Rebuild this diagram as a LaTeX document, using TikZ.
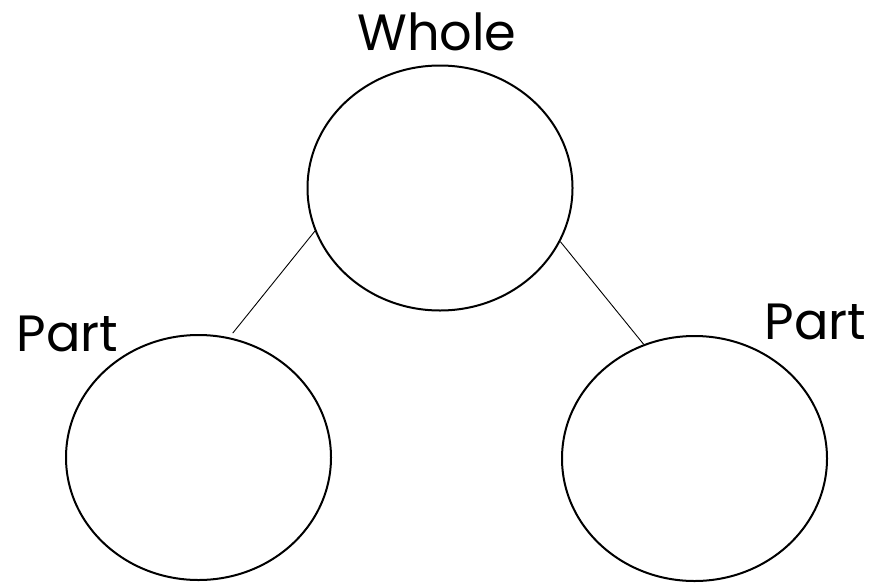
\documentclass[tikz,border=0pt]{standalone}
\usepackage{fontspec}
\setmainfont{Poppins}
\usetikzlibrary{shapes.geometric}
\begin{document}
\begin{tikzpicture}[x=1pt,y=-1pt,
  circ/.style={draw,line width=2pt,ellipse,minimum width=265pt,minimum height=245pt,inner sep=0pt},
  conn/.style={line width=0.9pt},
  lbl/.style={font=\fontsize{51}{51}\selectfont,inner sep=0pt,anchor=base}]
\useasboundingbox (0,0) rectangle (886,584);
\node[circ] (whole) at (440,188) {};
\node[circ] (left) at (198.5,457.5) {};
\node[circ] (right) at (694.5,458.5) {};
\node[lbl] (twhole) at (437,50) {Whole};
\node[lbl] (tleft) at (67.5,351) {Part};
\node[lbl] (tright) at (815.5,339) {Part};
\draw[conn] (whole.199) -- ([shift={(0pt,5pt)}]left.74.5);
\draw[conn] (whole.336.5) -- (right.114.5);
\end{tikzpicture}
\end{document}
